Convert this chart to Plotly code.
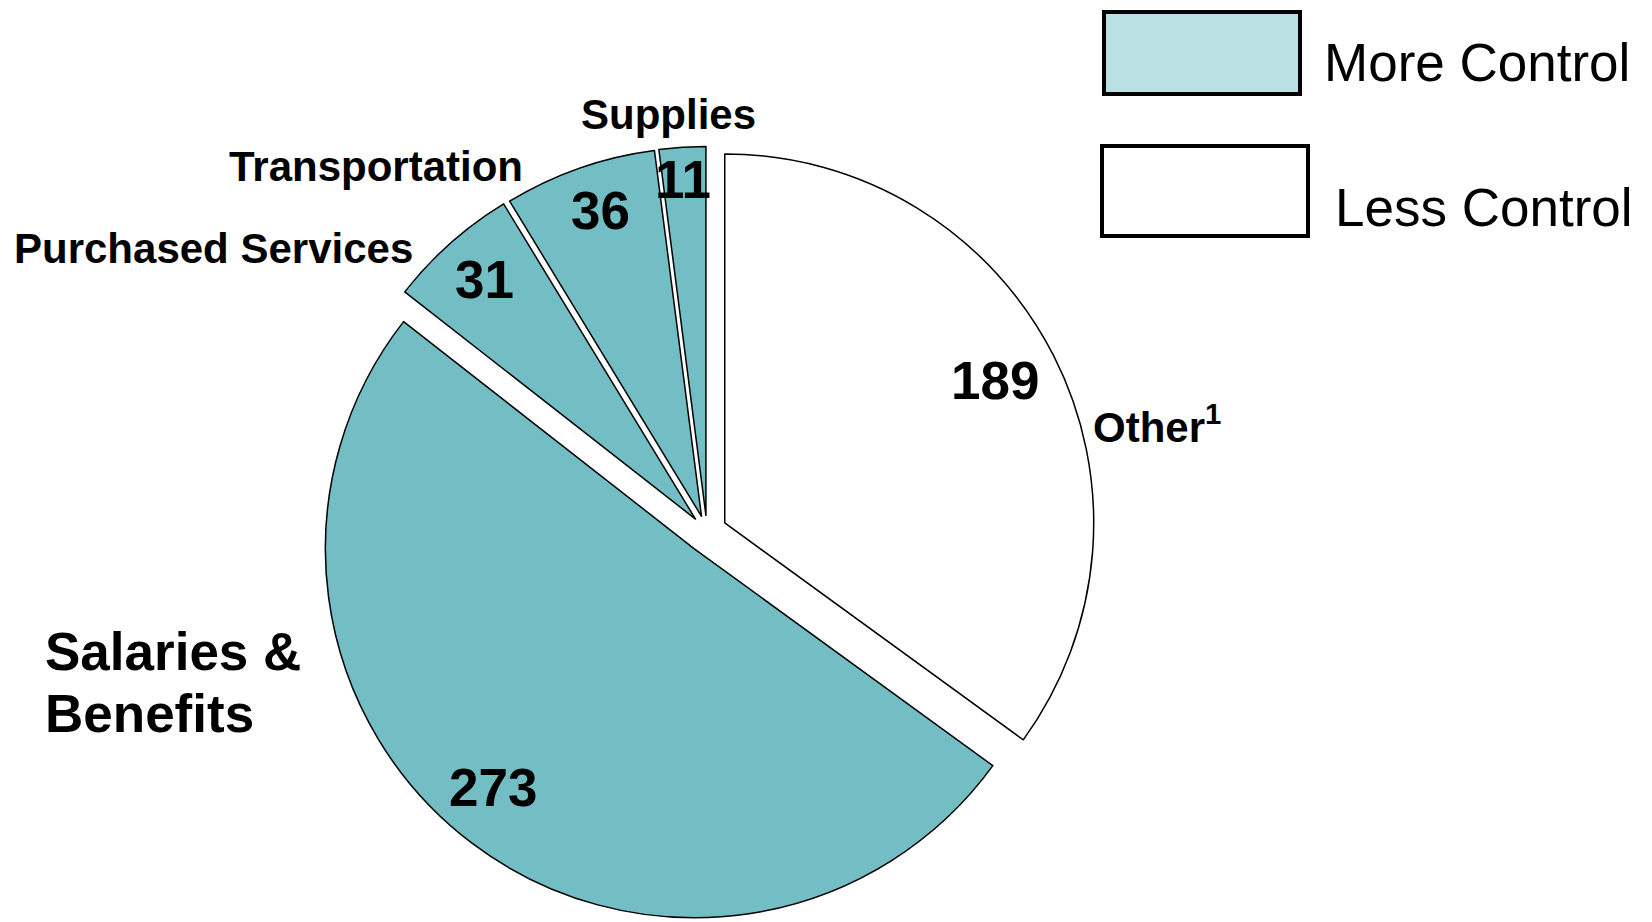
import math
import plotly.graph_objects as go

# Cost breakdown, drawn clockwise from 12 o'clock
categories = ["Other", "Salaries & Benefits", "Purchased Services", "Transportation", "Supplies"]
values = [189, 273, 31, 36, 11]
control = ["Less Control", "More Control", "More Control", "More Control", "More Control"]
legend_items = ["More Control", "Less Control"]

W, H = 1652, 922
TEAL = "#73BEC4"
LIGHT = "#BAE0E3"
FONT = "Liberation Sans, Arial, sans-serif"
fill_for = {"More Control": TEAL, "Less Control": "#FFFFFF"}

pulls = [0.054, 0.057, 0.047, 0.045, 0.045]
center_px = (707, 532)
half_box = 390

# value label placement: radial fraction of radius and small angular nudge (deg)
label_radius = [0.829, 0.847, 0.865, 0.872, 0.9135]
label_nudge = [-0.7, 2.9, 0.3, 1.0, -0.3]


def px_x(x):
    return x / W


def px_y(y):
    return 1 - y / H


fig = go.Figure(go.Pie(
    labels=categories,
    values=values,
    sort=False,
    direction="clockwise",
    rotation=0,
    pull=pulls,
    textinfo="none",
    hoverinfo="label+value",
    marker=dict(colors=[fill_for[c] for c in control],
                line=dict(color="#000000", width=1.5)),
    domain=dict(x=[px_x(center_px[0] - half_box), px_x(center_px[0] + half_box)],
                y=[px_y(center_px[1] + half_box), px_y(center_px[1] - half_box)]),
    showlegend=False,
))

annotations = []


def add_text(text, x, y, size, anchor="center"):
    annotations.append(dict(x=px_x(x), y=px_y(y), xref="paper", yref="paper",
                            text=text, showarrow=False, align="left",
                            font=dict(family=FONT, size=size, color="#000000"),
                            xanchor=anchor, yanchor="middle"))


# value labels positioned along each slice's bisector
radius = half_box / (1 + max(pulls))
total = sum(values)
start = 0.0
for v, p, f, nudge in zip(values, pulls, label_radius, label_nudge):
    span = 360.0 * v / total
    mid = math.radians(start + span / 2 + nudge)
    dist = (p + f) * radius
    x = center_px[0] + dist * math.sin(mid)
    y = center_px[1] - dist * math.cos(mid)
    add_text(f"<b>{v}</b>", x, y, 53)
    start += span

# category names
add_text("<b>Other<sup>1</sup></b>", 1091, 424, 42, "left")
add_text("<b>Salaries &</b>", 43, 651, 53, "left")
add_text("<b>Benefits</b>", 43, 713, 53, "left")
add_text("<b>Purchased Services</b>", 213, 249, 42)
add_text("<b>Transportation</b>", 376, 166, 42)
add_text("<b>Supplies</b>", 668, 114, 42)

# legend boxes and captions
legend_boxes = [(1104, 12, 1300, 94), (1102, 146, 1308, 236)]
legend_text_pos = [(1322, 62), (1333, 207)]
legend_fill = {"More Control": LIGHT, "Less Control": "#FFFFFF"}
shapes = []
for item, (x0, y0, x1, y1), (tx, ty) in zip(legend_items, legend_boxes, legend_text_pos):
    shapes.append(dict(type="rect", xref="paper", yref="paper",
                       x0=px_x(x0), x1=px_x(x1), y0=px_y(y1), y1=px_y(y0),
                       fillcolor=legend_fill[item], line=dict(color="#000000", width=4)))
    add_text(item, tx, ty, 53, "left")

fig.update_layout(
    width=W, height=H,
    margin=dict(l=0, r=0, t=0, b=0),
    paper_bgcolor="#FFFFFF",
    plot_bgcolor="#FFFFFF",
    annotations=annotations,
    shapes=shapes,
)

fig.write_html("out.html")
